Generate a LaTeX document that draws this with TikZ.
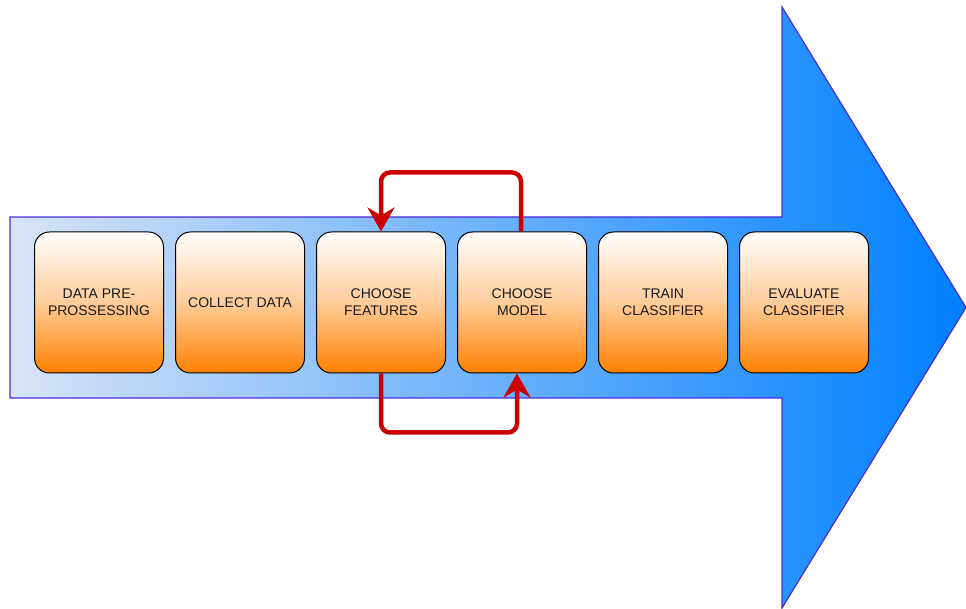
\documentclass[tikz,border=0pt]{standalone}
\usepackage{fontspec}
\setmainfont{Liberation Sans}
\usetikzlibrary{arrows.meta,calc}
\definecolor{flowred}{HTML}{CC0000}
\definecolor{arrowedge}{HTML}{4A2CD8}
\definecolor{arrowlight}{HTML}{D8E4F6}
\definecolor{arrowdark}{HTML}{007FFF}
\definecolor{boxorange}{HTML}{FF8000}
\tikzset{
  stage/.style={draw=black, line width=1pt, rounded corners=15pt,
    minimum width=129pt, minimum height=141pt,
    top color=white, bottom color=boxorange, middle color={boxorange!40!white},
    align=center, font=\fontsize{14}{17}\selectfont, text=black!90},
  loop/.style={draw=flowred, line width=4.5pt, rounded corners=9pt,
    -{Stealth[length=24pt,width=27pt,inset=8pt]}}
}
\begin{document}
\begin{tikzpicture}[x=1pt,y=1pt]
\useasboundingbox (0,0) rectangle (966,608);
% big process arrow
\path[draw=arrowedge, line width=1.2pt, left color=arrowlight, right color=arrowdark]
  (10,391) -- (782,391) -- (782,601) -- (966,300.5) -- (782,0) -- (782,210) -- (10,210) -- cycle;
% process stages
\node[stage] (pre) at (99,305.5) {DATA PRE-\\PROSSESSING};
\node[stage] (col) at (240,305.5) {COLLECT DATA};
\node[stage] (feat) at (381,305.5) {CHOOSE\\FEATURES};
\node[stage] (mod) at (522,305.5) {CHOOSE\\MODEL};
\node[stage] (train) at (663,305.5) {TRAIN\\CLASSIFIER};
\node[stage] (eval) at (804,305.5) {EVALUATE\\CLASSIFIER};
% feedback loops between features and model
\coordinate (mtop) at ($(mod.north)+(-1,0)$);
\coordinate (mbot) at ($(mod.south)+(-5,0)$);
\draw[loop] (mtop) -- ++(0,59) -| (feat.north);
\draw[loop] (feat.south) -- ++(0,-59) -| (mbot);
\end{tikzpicture}
\end{document}
